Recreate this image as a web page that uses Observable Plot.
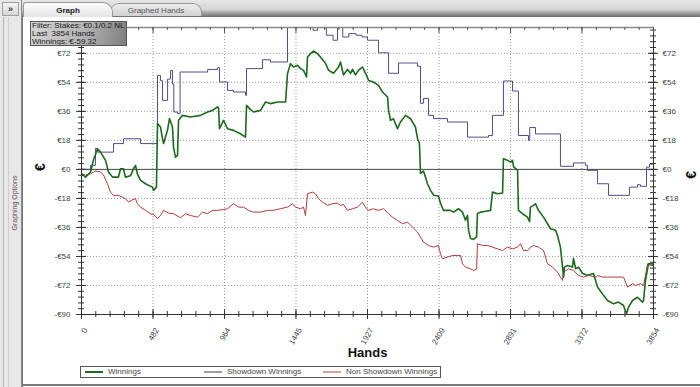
<!DOCTYPE html>
<html><head><meta charset="utf-8">
<script src="https://cdn.jsdelivr.net/npm/d3@7"></script>
<script src="https://cdn.jsdelivr.net/npm/@observablehq/plot@0.6"></script>
<style>
body{margin:0;width:700px;height:387px;overflow:hidden;background:#fff;font-family:"Liberation Sans",Arial,sans-serif;}
#root{position:relative;width:700px;height:387px;overflow:hidden;background:#fff;}
.abs{position:absolute;}
#chart svg{position:absolute;left:0;top:0;}
#filter div{white-space:pre;}
</style></head><body><div id="root">
<div class="abs" style="left:0;top:0;width:22px;height:387px;background:#e7e7e7;border-right:1px solid #8a8a8a;box-sizing:border-box;"></div>
<div class="abs" style="left:3px;top:17px;width:1px;height:370px;background:#b5b5b5;"></div>
<div class="abs" style="left:8px;top:17px;width:1px;height:370px;background:#cfcfcf;"></div>
<div class="abs" style="left:2px;top:2px;width:17px;height:14px;background:linear-gradient(#f4f4f4,#d6d6d6);border:1px solid #a0a0a0;box-sizing:border-box;font-size:9px;font-weight:bold;color:#333;text-align:center;line-height:12px;">»</div>
<div class="abs" style="left:14px;top:203px;transform:translate(-50%,-50%) rotate(-90deg);font-size:7px;color:#555;white-space:nowrap;">Graphing Options</div>
<div class="abs" style="left:22px;top:0;width:678px;height:17px;background:linear-gradient(#e6e6e6 0%,#d6d6d6 55%,#9a9a9a 80%,#6e6e6e 100%);"></div>
<div class="abs" style="left:110px;top:3px;width:92px;height:13px;background:linear-gradient(#ececec,#d2d2d2);border:1px solid #9a9a9a;border-bottom:none;border-radius:9px 9px 0 0;box-sizing:border-box;font-size:8px;color:#555;text-align:center;line-height:13px;">Graphed Hands</div>
<div class="abs" style="left:23px;top:2px;width:90px;height:15px;background:linear-gradient(#fdfdfd,#e4e4e4);border:1px solid #9a9a9a;border-bottom:none;border-radius:3px 10px 0 0;box-sizing:border-box;font-size:8px;font-weight:bold;color:#222;text-align:center;line-height:15px;">Graph</div>
<div class="abs" style="left:22px;top:17px;width:1px;height:370px;background:#777;"></div>
<div class="abs" style="left:22px;top:384px;width:678px;height:2px;background:#7a7a7a;"></div>
<div id="chart"></div>
<div class="abs" id="filter" style="left:30px;top:21px;width:97px;height:25px;background:linear-gradient(100deg,#d4d4d4 0%,#b4b4b4 55%,#7e7e7e 100%);border:1px solid #555;box-sizing:border-box;font-size:8px;line-height:8.2px;color:#1a1a1a;padding:0 0 0 1px;white-space:nowrap;overflow:hidden;">
<div id="f1"></div><div id="f2"></div><div id="f3"></div></div>
<div class="abs" id="legend" style="left:80px;top:366px;width:361px;height:12px;border:1px solid #555;box-sizing:border-box;background:#fff;"></div>
</div>
<script>
// ---- data ----
const filterLines = ["Filter: Stakes: €0.1/0.2 NL", "Last  3854 Hands", "Winnings: €-59.32"];
const seriesNames = ["Winnings", "Showdown Winnings", "Non Showdown Winnings"];
const xTickLabels = [0, 482, 964, 1445, 1927, 2409, 2891, 3372, 3854];
const yTickLabels = [-90, -72, -54, -36, -18, 0, 18, 36, 54, 72];
const xTitle = "Hands";
const yTitle = "€";

// [hands, euros]
const winnings = [[0,-2.7],[27,-4.8],[61,-1.6],[81,6],[108,12.8],[128,10.7],[162,5.6],[182,-1.6],[209,-4.8],[249,-4.8],[263,0.4],[283,0.4],[296,-4.8],[330,-4],[350,0.4],[364,2.5],[377,-3],[398,-6.8],[431,-8.9],[451,-9.9],[478,-11],[485,-13],[505,-11],[512,28.4],[532,26.3],[546,19],[553,16],[579,24.2],[593,31.5],[613,26.3],[620,13.8],[633,7.6],[647,8.7],[654,30.4],[681,33.5],[734,32.5],[802,33.5],[849,35.6],[883,36.6],[916,38.7],[923,38.3],[930,25.2],[957,30.4],[984,25.2],[1024,24.2],[1071,22.1],[1105,20],[1112,39.7],[1132,37.7],[1159,35.6],[1206,36.6],[1240,41.8],[1273,40.8],[1321,41.8],[1375,41.8],[1388,59.4],[1408,65.6],[1428,63.5],[1455,64.6],[1476,62.5],[1496,61.4],[1516,57.3],[1523,69.7],[1543,71.8],[1563,73.4],[1590,71.8],[1610,69.7],[1644,65.8],[1664,61.6],[1698,59.6],[1732,63.5],[1745,66.6],[1765,58.6],[1792,62],[1813,59.6],[1826,62],[1846,58.6],[1866,61.4],[1893,63.5],[1914,59.6],[1934,55.2],[1967,54.2],[2001,52.1],[2028,48],[2062,44.9],[2069,36.6],[2082,30.4],[2102,31.4],[2129,25.2],[2149,29.4],[2183,33.5],[2217,31.4],[2250,26.3],[2264,19.2],[2277,16.1],[2284,-2.5],[2304,-1],[2318,-4.8],[2331,-8.9],[2352,-13],[2372,-16],[2405,-16.5],[2419,-21],[2439,-25.4],[2486,-25.4],[2507,-26.5],[2540,-24.4],[2567,-26.5],[2587,-31.5],[2601,-28.5],[2608,-37.8],[2621,-42.8],[2641,-43.4],[2662,-41.8],[2668,-27.3],[2688,-26.5],[2722,-26],[2756,-25.4],[2769,-14.1],[2803,-15.1],[2837,-14.6],[2843,6.6],[2870,5.6],[2891,4.5],[2904,5.6],[2911,1.7],[2924,0.6],[2938,-0.4],[2944,-25.4],[2971,-27.5],[3005,-29.6],[3019,-32.5],[3025,-23.4],[3046,-22.3],[3059,-21.3],[3079,-25.4],[3113,-29.6],[3140,-33.7],[3160,-36.8],[3194,-37.8],[3207,-41],[3227,-48.2],[3241,-60.6],[3248,-66.8],[3254,-60.6],[3275,-59.6],[3308,-60.6],[3315,-55.2],[3329,-61.6],[3349,-60.6],[3376,-64.6],[3409,-65.6],[3450,-64.6],[3463,-68.8],[3477,-73],[3510,-77.2],[3544,-81.3],[3585,-83.4],[3618,-82.3],[3652,-84.4],[3672,-89.5],[3686,-85.4],[3713,-81.3],[3746,-79.3],[3780,-82.3],[3787,-81.3],[3800,-68.8],[3814,-61.7],[3820,-58.6],[3847,-58.6],[3854,-59.3]];

const showdown = [[0,0],[61,2.5],[94,13],[108,10.7],[216,16],[283,19],[398,16],[512,58.3],[532,55],[546,42.8],[580,56],[600,61.4],[613,53],[622,35.6],[647,34.6],[664,60.4],[850,62],[916,63],[930,54.2],[984,49],[1024,48],[1105,46],[1112,62.5],[1220,68],[1273,66.6],[1388,88],[1515,88],[1560,86.3],[1590,88],[1650,83.2],[1695,80.1],[1725,88],[1760,82.1],[1801,84.2],[1850,83.2],[1890,82.1],[1927,80.1],[2001,72.3],[2069,59.6],[2136,66],[2264,64],[2284,41],[2304,44],[2338,33.5],[2372,31.5],[2466,29.4],[2601,20],[2742,21],[2769,33.5],[2843,54.8],[2904,48.6],[2944,21],[3012,18],[3020,26],[3059,22],[3227,1.9],[3315,4],[3396,2.5],[3409,-0.6],[3477,-8.9],[3551,-16.1],[3692,-11],[3746,-9.5],[3766,-10.5],[3807,1.4],[3827,3.3],[3854,3.3]];

const nonShowdown = [[0,-2.7],[27,-3.5],[61,-2.7],[94,-1],[128,-1.5],[148,-3.5],[175,-8.9],[195,-14.1],[216,-16.1],[249,-16.1],[276,-17.2],[296,-18.2],[317,-20.3],[344,-18.8],[364,-18.2],[377,-21.3],[398,-23.4],[431,-25.4],[465,-27.5],[485,-27.9],[512,-30.6],[532,-28.6],[553,-25.4],[586,-27.1],[620,-27.5],[667,-30],[701,-27.5],[734,-28.6],[782,-29.6],[815,-26.5],[849,-27.5],[883,-25.4],[916,-25.4],[950,-25],[984,-24.4],[1024,-21.3],[1058,-23.4],[1092,-23.4],[1125,-25.4],[1159,-26.5],[1206,-26.5],[1253,-25.4],[1294,-25.4],[1341,-24.4],[1388,-23.4],[1422,-21.3],[1442,-23.4],[1476,-24.4],[1496,-23.4],[1509,-28.6],[1523,-15.1],[1556,-14.1],[1577,-15.1],[1597,-18.2],[1624,-20.3],[1658,-22.3],[1691,-21.3],[1725,-21],[1745,-22.3],[1765,-21.7],[1792,-25.4],[1826,-24.4],[1860,-23.4],[1893,-20.3],[1913,-23.4],[1934,-25.4],[1967,-24.4],[2001,-25.4],[2035,-24.4],[2069,-27.5],[2095,-29.6],[2129,-31.7],[2163,-33.7],[2197,-32.7],[2230,-35.8],[2264,-38.9],[2284,-42],[2304,-45.1],[2338,-47.2],[2372,-48.2],[2405,-47.2],[2419,-52.3],[2432,-55.4],[2466,-54.4],[2500,-53.4],[2533,-53.4],[2554,-53.4],[2567,-58.6],[2587,-60.6],[2621,-61.7],[2641,-62.7],[2662,-61.7],[2668,-46.1],[2702,-47.2],[2736,-47.2],[2769,-48.2],[2803,-49.3],[2837,-50.3],[2870,-48.2],[2904,-49.3],[2938,-48.2],[2958,-46.1],[2978,-50.3],[3005,-50.3],[3025,-48.2],[3046,-47.2],[3079,-48.2],[3113,-50.3],[3140,-58.6],[3174,-60.6],[3207,-63.7],[3227,-66.8],[3241,-68.9],[3248,-63.7],[3281,-61.7],[3315,-62.7],[3349,-65.8],[3383,-66.8],[3416,-65.8],[3463,-66.8],[3477,-65.8],[3510,-66.8],[3544,-66.8],[3585,-66.8],[3618,-66.8],[3652,-66.8],[3679,-73],[3713,-70.9],[3733,-72],[3766,-70.9],[3787,-72],[3800,-65.8],[3814,-58.6],[3834,-59.6],[3854,-59.6]];

const colors = ["#1c6a1c", "#4e4e8c", "#b03a3a"];
const legendColors = ["#1c6a1c", "#9c9cb4", "#d9a0a0"];

// ---- chrome text ----
document.getElementById("f1").textContent = filterLines[0];
document.getElementById("f2").textContent = filterLines[1];
document.getElementById("f3").textContent = filterLines[2];

const legend = document.getElementById("legend");
const legendX = [4, 123, 242];
seriesNames.forEach((n, i) => {
  const line = document.createElement("div");
  line.className = "abs";
  line.style.cssText = `left:${legendX[i]}px;top:4px;width:18px;height:1.5px;background:${legendColors[i]};`;
  legend.appendChild(line);
  const t = document.createElement("div");
  t.className = "abs";
  t.style.cssText = `left:${legendX[i] + 23}px;top:0px;font-size:8px;line-height:10px;color:#444;white-space:nowrap;`;
  t.textContent = n;
  legend.appendChild(t);
});

// ---- chart ----
const xMax = 3854, yMin = -90, yMax = 88;
const xMinor = d3.range(0, xMax + 1, xMax / 40);
const yMinor = d3.range(yMin, yMax, 3.6);
const fmt = v => v < 0 ? "-€" + (-v) : "€" + v;
const gridY = yTickLabels.filter(v => v !== 0 && v !== yMin);
const gridX = xTickLabels.filter(v => v !== 0 && v !== xMax);

const chart = Plot.plot({
  width: 700, height: 387,
  marginLeft: 81, marginRight: 47, marginTop: 27, marginBottom: 73,
  style: {fontFamily: "Liberation Sans, Arial, sans-serif", fontSize: "8px", background: "transparent", overflow: "visible"},
  x: {domain: [0, xMax], axis: null},
  y: {domain: [yMin, yMax], axis: null},
  marks: [
    Plot.ruleX(gridX, {x: d => d, stroke: "#9a9a9a", strokeDasharray: "1,2", strokeWidth: 1}),
    Plot.ruleY(gridY, {y: d => d, stroke: "#9a9a9a", strokeDasharray: "1,2", strokeWidth: 1}),
    Plot.ruleY([0], {y: d => d, stroke: "#444", strokeWidth: 1}),
    Plot.line(nonShowdown, {x: d => d[0], y: d => d[1], stroke: colors[2], strokeWidth: 1, clip: true}),
    Plot.line(showdown, {x: d => d[0], y: d => d[1], stroke: colors[1], strokeWidth: 1, curve: "step-after", clip: true}),
    Plot.line(winnings, {x: d => d[0], y: d => d[1], stroke: colors[0], strokeWidth: 1.6, clip: true}),
    // frame lines
    Plot.ruleY([yMax], {y: d => d, stroke: "#8a8a8a", strokeWidth: 1.5}),
    Plot.ruleY([yMin], {y: d => d, stroke: "#333", strokeWidth: 1}),
    Plot.ruleX([0, xMax], {x: d => d, stroke: "#333", strokeWidth: 1}),
    // y ticks (crossing both vertical axes)
    ...[0, xMax].flatMap(ax => [
      Plot.ruleY(yTickLabels, {y: d => d, x1: () => ax, x2: () => ax, insetLeft: -5, insetRight: -5, stroke: "#333"}),
      Plot.ruleY(yMinor, {y: d => d, x1: () => ax, x2: () => ax, insetLeft: -3, insetRight: -3, stroke: "#333"})
    ]),
    // x ticks bottom
    Plot.ruleX(xTickLabels, {x: d => d, y1: () => yMin, y2: () => yMin, insetTop: -5, insetBottom: -5, stroke: "#333"}),
    Plot.ruleX(xMinor, {x: d => d, y1: () => yMin, y2: () => yMin, insetTop: -3, insetBottom: -3, stroke: "#333"}),
    // x ticks top
    Plot.ruleX(xTickLabels, {x: d => d, y1: () => yMax, y2: () => yMax, insetTop: 0, insetBottom: -6, stroke: "#555"}),
    Plot.ruleX(xMinor, {x: d => d, y1: () => yMax, y2: () => yMax, insetTop: 0, insetBottom: -3, stroke: "#555"}),
    // tick labels
    Plot.text(yTickLabels, {y: d => d, frameAnchor: "left", dx: -11, textAnchor: "end", text: fmt, fontSize: 8, fill: "#444"}),
    Plot.text(yTickLabels, {y: d => d, frameAnchor: "right", dx: 9, textAnchor: "start", text: fmt, fontSize: 8, fill: "#444"}),
    Plot.text(xTickLabels, {x: d => d, y: () => yMin, text: d => String(d), rotate: -60, textAnchor: "end", dx: 4, dy: 14, fontSize: 8, fill: "#444"}),
    // titles
    Plot.text([xTitle], {frameAnchor: "bottom", dy: 42, text: d => d, fontSize: 13, fontWeight: "bold", fill: "#111"}),
    Plot.text([yTitle], {frameAnchor: "left", dx: -41, text: d => d, rotate: -90, fontSize: 14, fontWeight: "bold", fill: "#111"}),
    Plot.text([yTitle], {frameAnchor: "right", dx: 38, text: d => d, rotate: -90, fontSize: 14, fontWeight: "bold", fill: "#111"})
  ]
});
document.getElementById("chart").appendChild(chart);
</script>
</body></html>
